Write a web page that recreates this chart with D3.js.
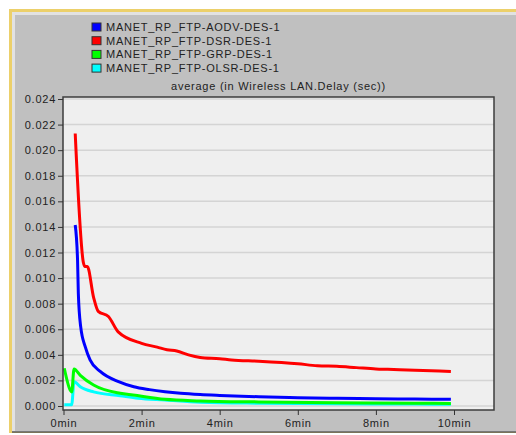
<!DOCTYPE html>
<html>
<head>
<meta charset="utf-8">
<script src="https://cdn.jsdelivr.net/npm/d3@7"></script>
<style>
  body { margin: 0; background: #fff; }
  svg text { font-family: "Liberation Sans", Arial, sans-serif; font-size: 11px; fill: #222; letter-spacing: 0.75px; }
</style>
</head>
<body>
<svg id="chart" width="516" height="435"></svg>
<script>
// series names + colours
var seriesNames = ["MANET_RP_FTP-AODV-DES-1", "MANET_RP_FTP-DSR-DES-1", "MANET_RP_FTP-GRP-DES-1", "MANET_RP_FTP-OLSR-DES-1"];
var seriesColors = ["#0000ff", "#ff0000", "#00ff00", "#00ffff"];

// sim time in minutes, delay in sec
var aodvTime  = [0.30, 0.36, 0.38, 0.44, 0.56, 0.68, 0.94, 1.41, 1.8, 2.2, 2.6, 3.0, 3.5, 4, 5, 6, 7, 8, 9, 9.92];
var aodvDelay = [0.01415, 0.0114, 0.0088, 0.0062, 0.0046, 0.0036, 0.0027, 0.0019, 0.0015, 0.00128, 0.00112, 0.001, 0.0009, 0.00083, 0.00072, 0.00065, 0.0006, 0.00057, 0.00054, 0.00052];

var dsrTime  = [0.30, 0.51, 0.55, 0.61, 0.77, 0.89, 1.15, 1.40, 2.0, 2.4, 2.65, 2.9, 3.2, 3.5, 4.0, 4.3, 5, 6, 6.5, 7, 7.5, 8, 8.3, 9, 9.92];
var dsrDelay = [0.0213, 0.0112, 0.0109, 0.0109, 0.0085, 0.0074, 0.0070, 0.0058, 0.0049, 0.0046, 0.0044, 0.0043, 0.0040, 0.0038, 0.0037, 0.0036, 0.0035, 0.0033, 0.00315, 0.0031, 0.0030, 0.0029, 0.00287, 0.0028, 0.0027];

var grpTime  = [0.02, 0.17, 0.21, 0.27, 0.43, 0.77, 1.45, 1.78, 2.6, 3.5, 5, 7, 9, 9.92];
var grpDelay = [0.00295, 0.00125, 0.0011, 0.0029, 0.0024, 0.00164, 0.001, 0.00086, 0.00052, 0.0004, 0.00032, 0.00026, 0.00022, 0.0002];

var olsrTime  = [0.02, 0.21, 0.27, 0.43, 0.77, 1.45, 1.91, 2.6, 3.5, 5, 7, 9, 9.92];
var olsrDelay = [0.0001, 0.0001, 0.0019, 0.0015, 0.0011, 0.0008, 0.0006, 0.00047, 0.0003, 0.00022, 0.00018, 0.00015, 0.00014];

var yTicks = [0, 0.002, 0.004, 0.006, 0.008, 0.010, 0.012, 0.014, 0.016, 0.018, 0.020, 0.022, 0.024];
var xTicks = [0, 2, 4, 6, 8, 10];

var series = [
  { name: seriesNames[0], color: seriesColors[0], t: aodvTime, v: aodvDelay },
  { name: seriesNames[1], color: seriesColors[1], t: dsrTime,  v: dsrDelay },
  { name: seriesNames[2], color: seriesColors[2], t: grpTime,  v: grpDelay },
  { name: seriesNames[3], color: seriesColors[3], t: olsrTime, v: olsrDelay }
];

var svg = d3.select("#chart");

// outer panel (yellow edge, light bevel, gray fill)
svg.append("rect").attr("x", 9).attr("y", 9).attr("width", 520).attr("height", 424).attr("fill", "#ecd06a");
svg.append("rect").attr("x", 12).attr("y", 12).attr("width", 520).attr("height", 420).attr("fill", "#e2e2e2");
svg.append("rect").attr("x", 15).attr("y", 15).attr("width", 520).attr("height", 416).attr("fill", "#c0c0c0");
svg.append("line").attr("x1", 12).attr("x2", 516).attr("y1", 432).attr("y2", 432).attr("stroke", "#555").attr("stroke-width", 1.5);

// plot box (not "top": that name is taken by window.top)
var plotL = 63, plotR = 494, plotT = 97, plotB = 410;

var x = d3.scaleLinear().domain([0, 10]).range([63.5, 454]);
var y = d3.scaleLinear().domain([0, 0.024]).range([406, 99]);

// plot background
svg.append("rect")
  .attr("x", plotL).attr("y", plotT)
  .attr("width", plotR - plotL).attr("height", plotB - plotT)
  .attr("fill", "#efefef");

// grid lines
svg.append("g").selectAll("line")
  .data(yTicks)
  .enter()
  .append("line")
  .attr("x1", plotL).attr("x2", plotR)
  .attr("y1", d => y(d)).attr("y2", d => y(d))
  .attr("stroke", "#d4d4d4")
  .attr("stroke-width", 1.5);

// lines
var line = d3.line()
  .curve(d3.curveMonotoneX)
  .x(d => x(d[0]))
  .y(d => y(d[1]));

svg.append("g").selectAll("path")
  .data(series.slice().reverse())
  .enter()
  .append("path")
  .attr("d", s => line(s.t.map((t, i) => [t, s.v[i]])))
  .attr("fill", "none")
  .attr("stroke", s => s.color)
  .attr("stroke-width", 3)
  .attr("stroke-linejoin", "round");

// frame
svg.append("rect")
  .attr("x", plotL).attr("y", plotT)
  .attr("width", plotR - plotL).attr("height", plotB - plotT)
  .attr("fill", "none")
  .attr("stroke", "#3c3c3c")
  .attr("stroke-width", 1.5);

// axes
var yAxis = svg.append("g")
  .attr("transform", "translate(" + plotL + ",0)")
  .call(d3.axisLeft(y).tickValues(yTicks).tickFormat(d3.format(".3f")).tickSize(5).tickPadding(2));
yAxis.select(".domain").remove();

var xAxis = svg.append("g")
  .attr("transform", "translate(0," + plotB + ")")
  .call(d3.axisBottom(x).tickValues(xTicks).tickFormat(d => d + "min").tickSize(5).tickPadding(4));
xAxis.select(".domain").remove();

svg.selectAll(".tick line").attr("stroke", "#333");
svg.selectAll(".tick text").attr("fill", "#222").attr("font-family", null).attr("font-size", null);

// title
svg.append("text")
  .attr("x", (plotL + plotR) / 2)
  .attr("y", 90)
  .attr("text-anchor", "middle")
  .text("average (in Wireless LAN.Delay (sec))");

// legend
var legend = svg.append("g").selectAll("g")
  .data(series)
  .enter()
  .append("g")
  .attr("transform", (d, i) => "translate(92," + (23 + i * 13.7) + ")");

legend.append("rect")
  .attr("width", 9).attr("height", 8)
  .attr("fill", d => d.color)
  .attr("stroke", "#333")
  .attr("stroke-width", 1);

legend.append("text")
  .attr("x", 14)
  .attr("y", 8)
  .text(d => d.name);
</script>
</body>
</html>
